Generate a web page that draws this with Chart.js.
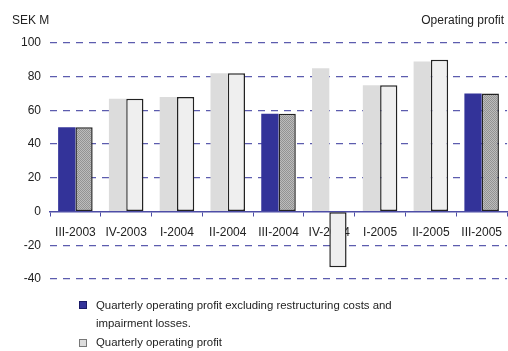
<!DOCTYPE html>
<html>
<head>
<meta charset="utf-8">
<script src="https://cdn.jsdelivr.net/npm/chart.js@4/dist/chart.umd.min.js"></script>
<style>
  html, body { margin: 0; padding: 0; background: #fff; overflow: hidden; }
  body { width: 508px; height: 351px; position: relative; font-family: "Liberation Sans", Arial, sans-serif; color: #222; }
  #wrap { position: absolute; left: 0; top: 0; width: 512px; height: 351px; }
  .note { position: absolute; font-size: 12px; line-height: 14px; white-space: nowrap; }
  .legend { font-size: 11.4px; }
  .sq { position: absolute; width: 8px; height: 8px; box-sizing: border-box; }
</style>
</head>
<body>
<div id="wrap"><canvas id="profit"></canvas></div>
<div class="note" style="left:12px; top:13px;">SEK M</div>
<div class="note" style="right:4px; top:13px;">Operating profit</div>
<div class="sq" style="left:79px; top:301px; background:#333399; border:1px solid #1a1a66;"></div>
<div class="note legend" style="left:96px; top:298px;">Quarterly operating profit excluding restructuring costs and</div>
<div class="note legend" style="left:96px; top:316px;">impairment losses.</div>
<div class="sq" style="left:79px; top:339px; background:#dddddd; border:1px solid #777;"></div>
<div class="note legend" style="left:96px; top:335px;">Quarterly operating profit</div>
<script>
const categories = ['III-2003', 'IV-2003', 'I-2004', 'II-2004', 'III-2004', 'IV-2004', 'I-2005', 'II-2005', 'III-2005'];
const excludingItems = [50, 67, 68, 82, 58, 85, 75, 89, 70];
const operatingProfit = [50, 67, 68, 82, 58, -33, 75, 90, 70];
const yTicks = [-40, -20, 0, 20, 40, 60, 80, 100];

// third quarters are shown in the darker style
const highlight = categories.map(c => c.startsWith('III-'));

function checker() {
    const c = document.createElement('canvas');
    c.width = 2; c.height = 2;
    const g = c.getContext('2d');
    g.fillStyle = '#bcbcbc'; g.fillRect(0, 0, 2, 2);
    g.fillStyle = '#939393'; g.fillRect(0, 0, 1, 1); g.fillRect(1, 1, 1, 1);
    return g.createPattern(c, 'repeat');
}

const canvas = document.getElementById('profit');
canvas.width = 512; canvas.height = 351;
const hatch = checker();

new Chart(canvas.getContext('2d'), {
    type: 'bar',
    data: {
        labels: categories,
        datasets: [
            {
                label: 'Quarterly operating profit excluding restructuring costs and impairment losses.',
                data: excludingItems,
                backgroundColor: highlight.map(h => h ? '#333399' : '#dcdcdc'),
                borderWidth: 0
            },
            {
                label: 'Quarterly operating profit',
                data: operatingProfit,
                backgroundColor: highlight.map(h => h ? hatch : '#efefef'),
                borderColor: '#222',
                borderWidth: 1.5,
                borderSkipped: false
            }
        ]
    },
    options: {
        responsive: false,
        animation: false,
        layout: { padding: { top: 43, bottom: 72, left: 0, right: 0 } },
        plugins: { legend: { display: false }, tooltip: { enabled: false } },
        datasets: { bar: { categoryPercentage: 0.68, barPercentage: 1 } },
        scales: {
            x: {
                position: { y: 0 },
                offset: true,
                grid: { display: true, drawOnChartArea: false, drawTicks: true, tickLength: 4, color: '#4d4da6', offset: true },
                border: { display: true, color: '#4d4da6', width: 1.5 },
                ticks: { color: '#222', font: { family: 'Liberation Sans', size: 12 }, padding: 10, maxRotation: 0, autoSkip: false }
            },
            y: {
                min: -40,
                max: 100,
                afterBuildTicks: s => { s.ticks = yTicks.map(v => ({ value: v })); },
                afterFit: s => { s.width = 50; },
                grid: {
                    drawTicks: false,
                    color: ctx => ctx.tick && ctx.tick.value === 0 ? 'rgba(0,0,0,0)' : '#5c5cae',
                    lineWidth: 1.3
                },
                border: { display: false, dash: [7, 6] },
                ticks: { color: '#222', font: { family: 'Liberation Sans', size: 12 }, padding: 9 }
            }
        }
    }
});
</script>
</body>
</html>
